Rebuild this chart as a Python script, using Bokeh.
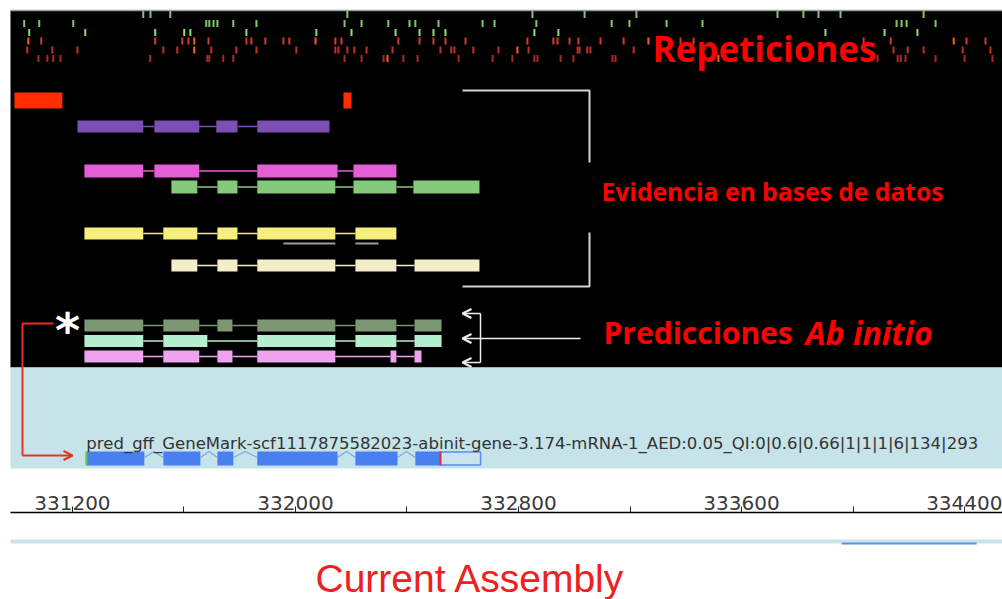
from bokeh.plotting import figure
from bokeh.layouts import column
from bokeh.models import Range1d, FixedTicker, BasicTickFormatter, Arrow, OpenHead
from bokeh.core.properties import value
from bokeh.embed import file_html
from bokeh.resources import INLINE

# ---------------- data (genomic coordinates, bp) ----------------
VIEW_START, VIEW_END = 330942, 334536
TICKS = [331200, 332000, 332800, 333600, 334400]
MINOR_TICKS = [331600, 332400, 333200, 334000]
OVERVIEW_START, OVERVIEW_END = 333959, 334443

rep_green_0 = [331454, 331480, 331551, 332186, 332850, 333037, 333223, 333729, 333822, 333876, 333955, 334253]
rep_green_1 = [331027, 331081, 331203, 331680, 331691, 331706, 331720, 331777, 331860, 332176, 332237, 332333,
               332409, 332430, 332513, 332671, 332714, 332864, 333134, 333198, 333331, 333460, 334156, 334174,
               334192, 334296]
rep_green_2 = [331045, 331246, 331497, 331601, 331623, 331824, 332075, 332201, 332359, 332445, 332495, 332538,
               332857, 332943, 333901, 334113, 334231]
rep_red_1 = [331088, 331497, 331594, 331616, 331688, 331824, 331842, 331892, 331957, 331978, 332143, 332165,
             332369, 332445, 332495, 332538, 332610, 332832, 332925, 332940, 332983, 333015, 333094, 333177,
             333381, 333428, 334038, 334135, 334407, 334475]
rep_red_2 = [331038, 331128, 331218, 331526, 331576, 331698, 331788, 331860, 332003, 332143, 332154, 332186,
             332211, 332255, 332348, 332520, 332559, 332570, 332638, 332728, 332836, 333012, 333019, 333047,
             333058, 333213, 334145, 334196, 334253, 334393, 334493]
rep_red_3 = [331078, 331110, 331131, 331157, 331479, 331684, 331691, 331741, 331777, 332176, 332237, 332316,
             332387, 332438, 332585, 332707, 332778, 332857, 332868, 332951, 332997, 333137, 333148, 334088,
             334160, 334171, 334188, 334296, 334400, 334500]
rep_orange_1 = [331042, 331637, 332072, 333266, 334361]
rep_orange_2 = [331637, 332796]
rep_orange_3 = [332330, 333517]

red_block_starts = [330992, 332172]
red_block_ends = [331164, 332201]

purple_starts = [331218, 331494, 331716, 331863]
purple_ends = [331454, 331655, 331792, 332122]
magenta_starts = [331243, 331494, 331863, 332208]
magenta_ends = [331454, 331655, 332151, 332362]
green_starts = [331555, 331720, 331863, 332208, 332423]
green_ends = [331648, 331792, 332143, 332362, 332660]
yellow_starts = [331243, 331526, 331720, 331863, 332215]
yellow_ends = [331454, 331648, 331792, 332143, 332362]
yellow_cov_starts = [331957, 332215]
yellow_cov_ends = [332143, 332298]
cream_starts = [331555, 331720, 331863, 332215, 332427]
cream_ends = [331648, 331792, 332143, 332362, 332660]
sage_starts = [331243, 331526, 331720, 331863, 332215, 332427]
sage_ends = [331454, 331655, 331774, 332143, 332362, 332524]
mint_starts = [331243, 331526, 331863, 332215, 332427]
mint_ends = [331454, 331684, 332143, 332362, 332524]
lilac_starts = [331243, 331526, 331720, 331863, 332341, 332427]
lilac_ends = [331454, 331655, 331774, 332143, 332362, 332452]
model_starts = [331250, 331526, 331720, 331863, 332215, 332430]
model_ends = [331458, 331659, 331777, 332151, 332366, 332520]
model_utr = [332520, 332664]
model_name = "pred_gff_GeneMark-scf1117875582023-abinit-gene-3.174-mRNA-1_AED:0.05_QI:0|0.6|0.66|1|1|1|6|134|293"

# ---------------- layout ----------------
W, H = 1002, 599
TOP_H = 480          # image y 0..480
BOT_H = H - TOP_H    # image y 480..599


def bx(px):
    """image pixel column -> bp on the shared genomic scale"""
    return VIEW_START + px * (VIEW_END - VIEW_START) / W


xr = Range1d(VIEW_START, VIEW_END)

pa = figure(width=W, height=TOP_H, x_range=xr, y_range=Range1d(480, 0),
            output_backend="svg", toolbar_location=None,
            x_axis_location=None, y_axis_location=None,
            min_border=0, outline_line_color=None,
            background_fill_color="white", border_fill_color="white")
pa.grid.visible = False

# panels
pa.quad(left=[bx(10)], right=[VIEW_END], top=[10], bottom=[367], fill_color="black", line_color=None)
pa.quad(left=[bx(10)], right=[VIEW_END], top=[367], bottom=[468], fill_color="#c6e3e9", line_color=None)
pa.segment(x0=[bx(10)], x1=[VIEW_END], y0=[10], y1=[10], line_color="#9a9a9a", line_width=1.5)

# repeats
for xs, yc, col in [(rep_green_0, 14, "#7fc86a"), (rep_green_1, 23, "#7fc86a"), (rep_green_2, 32, "#8fdc72"),
                    (rep_red_1, 40.5, "#d8382c"), (rep_red_2, 49.5, "#c0302a"), (rep_red_3, 58, "#a82a28"),
                    (rep_orange_1, 40.5, "#ff5a22"), (rep_orange_2, 49.5, "#ff5a22"), (rep_orange_3, 58, "#ff5a22")]:
    pa.segment(x0=xs, x1=xs, y0=[yc - 3.5] * len(xs), y1=[yc + 3.5] * len(xs), line_color=col, line_width=2)

pa.quad(left=red_block_starts, right=red_block_ends, top=[92] * 2, bottom=[108] * 2,
        fill_color="#ff2d00", line_color=None)


def track(starts, ends, yc, h, col, lw=1.5):
    pa.segment(x0=ends[:-1], x1=starts[1:], y0=[yc] * (len(starts) - 1), y1=[yc] * (len(starts) - 1),
               line_color=col, line_width=lw)
    pa.quad(left=starts, right=ends, top=[yc - h / 2] * len(starts), bottom=[yc + h / 2] * len(starts),
            fill_color=col, line_color=None)


track(purple_starts, purple_ends, 126, 12, "#7b4fb3")
track(magenta_starts, magenta_ends, 170.5, 13, "#e45ed6")
track(green_starts, green_ends, 186.5, 13, "#86c97a")
track(yellow_starts, yellow_ends, 233, 12, "#f6ef7c")
pa.segment(x0=yellow_cov_starts, x1=yellow_cov_ends, y0=[243] * 2, y1=[243] * 2, line_color="#9c9c9c", line_width=2)
track(cream_starts, cream_ends, 265, 12, "#f1eec9")
track(sage_starts, sage_ends, 325, 12, "#7b9873")
track(mint_starts, mint_ends, 340.5, 12, "#b5efcf")
track(lilac_starts, lilac_ends, 356, 12, "#eea3ef")

# gene model in the annotation panel
carets_x = [[e, (e + s) / 2, s] for e, s in zip(model_ends[:-1], model_starts[1:])]
carets_y = [[457, 451, 457]] * len(carets_x)
pa.multi_line(xs=carets_x, ys=carets_y, line_color="#7aa5e8", line_width=1.2)
pa.quad(left=[model_utr[0]], right=[model_utr[1]], top=[451.5], bottom=[464.5],
        fill_color="#c9e3f1", line_color="#5b8ee6", line_width=1.5)
pa.quad(left=model_starts, right=model_ends, top=[451] * len(model_starts), bottom=[465] * len(model_starts),
        fill_color="#4a7ff0", line_color=None)
pa.segment(x0=[model_starts[0]], x1=[model_starts[0]], y0=[451], y1=[465], line_color="#5ad040", line_width=2)
pa.segment(x0=[model_ends[-1]], x1=[model_ends[-1]], y0=[451], y1=[465], line_color="#e03030", line_width=2)
pa.text(x=[model_starts[0]], y=[443], text=[model_name], text_font=value("DejaVu Sans"),
        text_font_size="16.5px", text_color="#333333", text_baseline="alphabetic", text_align="left")

# annotations
pa.multi_line(xs=[[bx(462), bx(589), bx(589)], [bx(589), bx(589), bx(462)]],
              ys=[[90, 90, 162], [232, 286, 286]], line_color="#d4d4d4", line_width=2)
for yy in [313, 338, 362]:
    pa.add_layout(Arrow(end=OpenHead(size=9, line_color="#eeeeee", line_width=2),
                        x_start=bx(480), y_start=yy, x_end=bx(462), y_end=yy,
                        line_color="#eeeeee", line_width=1.5))
pa.segment(x0=[bx(480), bx(480)], x1=[bx(480), bx(580)], y0=[313, 338], y1=[362, 338],
           line_color="#eeeeee", line_width=1.5)

pa.multi_line(xs=[[bx(53), bx(22), bx(22)]], ys=[[323, 323, 455]], line_color="#e8321e", line_width=2)
pa.add_layout(Arrow(end=OpenHead(size=9, line_color="#e8321e", line_width=2),
                    x_start=bx(22), y_start=455, x_end=bx(72), y_end=455,
                    line_color="#e8321e", line_width=2))
pa.text(x=[bx(67)], y=[329], text=["*"], text_font=value("DejaVu Sans"), text_font_style="bold",
        text_font_size="48px", text_color="white", text_align="center", text_baseline="alphabetic")

RED = "#ff0000"
pa.text(x=[bx(652)], y=[48], text=["Repeticiones"], text_font=value("Open Sans"), text_font_style="bold",
        text_font_size="35px", text_color=RED, text_baseline="alphabetic")
pa.text(x=[bx(601)], y=[191], text=["Evidencia en bases de datos"], text_font=value("Open Sans"),
        text_font_style="bold", text_font_size="24.7px", text_color=RED, text_baseline="alphabetic")
pa.text(x=[bx(603)], y=[332], text=["Predicciones"], text_font=value("Open Sans"), text_font_style="bold",
        text_font_size="30px", text_color=RED, text_baseline="alphabetic")
pa.text(x=[bx(805)], y=[332], text=["Ab initio"], text_font=value("Open Sans"), text_font_style="bold italic",
        text_font_size="32px", text_color=RED, text_baseline="alphabetic")

# ---------------- ruler figure ----------------
pb = figure(width=W, height=BOT_H, x_range=xr, y_range=Range1d(599, 512),
            output_backend="svg", toolbar_location=None,
            x_axis_location="above", y_axis_location=None,
            min_border=0, min_border_top=32, outline_line_color=None,
            background_fill_color="white", border_fill_color="white")
pb.grid.visible = False
ax = pb.xaxis[0]
ax.ticker = FixedTicker(ticks=TICKS, minor_ticks=MINOR_TICKS)
ax.formatter = BasicTickFormatter(use_scientific=False)
ax.bounds = (bx(10), VIEW_END)
ax.axis_line_color = "black"
ax.axis_line_width = 1.5
ax.major_tick_out = 6
ax.major_tick_in = 0
ax.minor_tick_out = 6
ax.minor_tick_in = 0
ax.major_tick_line_color = "#222222"
ax.minor_tick_line_color = "#222222"
ax.major_label_text_font = "DejaVu Sans"
ax.major_label_text_font_size = "20px"
ax.major_label_text_color = "#3a3a3a"
ax.major_label_standoff = -3

pb.segment(x0=[bx(10)], x1=[VIEW_END], y0=[541], y1=[541], line_color="#cde3ec", line_width=4)
pb.segment(x0=[OVERVIEW_START], x1=[OVERVIEW_END], y0=[543], y1=[543], line_color="#5f8fe0", line_width=2)
pb.text(x=[bx(315)], y=[578], text=["Current Assembly"], text_font=value("Liberation Sans"),
        text_font_size="39px", text_color="#ee2020", text_baseline="alphabetic", text_align="left")

layout = column(pa, pb, spacing=0)
open("out.html", "w").write(file_html(layout, INLINE))
